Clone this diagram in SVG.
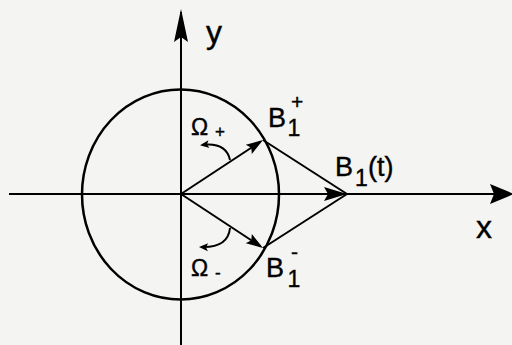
<svg xmlns="http://www.w3.org/2000/svg" width="512" height="345" viewBox="0 0 512 345">
  <style>
    .ln { stroke: #000; stroke-width: 2; fill: none; }
    .circ { stroke: #000; stroke-width: 2.5; fill: none; }
    .t { font-family: "Liberation Sans", Arial, sans-serif; fill: #000; stroke: #000; stroke-width: 0.4; }
    .head { fill: #000; stroke: none; }
  </style>
  <defs>
    <marker id="ay" markerUnits="userSpaceOnUse" viewBox="-40 -20 45 40" markerWidth="45" markerHeight="40" refX="0" refY="0" orient="auto">
      <path class="head" d="M3,0 L-30,-7 L-25,0 L-30,7 Z"/>
    </marker>
    <marker id="ax" markerUnits="userSpaceOnUse" viewBox="-40 -20 45 40" markerWidth="45" markerHeight="40" refX="0" refY="0" orient="auto">
      <path class="head" d="M3,0 L-21,-10 L-17,0 L-21,10 Z"/>
    </marker>
    <marker id="ab" markerUnits="userSpaceOnUse" viewBox="-40 -20 45 40" markerWidth="45" markerHeight="40" refX="0" refY="0" orient="auto">
      <path class="head" d="M3,0 L-20,-7 L-16,0 L-20,7 Z"/>
    </marker>
    <marker id="as" markerUnits="userSpaceOnUse" viewBox="-40 -20 45 40" markerWidth="45" markerHeight="40" refX="0" refY="0" orient="auto">
      <path class="head" d="M3,0 L-14,-5.5 L-11,0 L-14,5.5 Z"/>
    </marker>
    <marker id="am" markerUnits="userSpaceOnUse" viewBox="-20 -10 25 20" markerWidth="25" markerHeight="20" refX="0" refY="0" orient="auto">
      <path class="head" d="M2,0 L-7,-4 L-5,0 L-7,4 Z"/>
    </marker>
  </defs>
  <rect width="512" height="345" fill="#f4f4f2"/>

  <g id="axes">
    <line class="ln" x1="181" y1="345" x2="181" y2="12" marker-end="url(#ay)"/>
    <line class="ln" x1="9" y1="194" x2="511" y2="194" marker-end="url(#ax)"/>
    <text class="t" x="206" y="43" font-size="32">y</text>
    <text class="t" x="476" y="238" font-size="32">x</text>
  </g>

  <g id="circle">
    <ellipse class="circ" cx="180.5" cy="194.5" rx="98.5" ry="105"/>
  </g>

  <g id="connectors">
    <line class="ln" x1="181" y1="194" x2="344" y2="194" marker-end="url(#ab)"/>
    <line class="ln" x1="181" y1="194" x2="260.5" y2="141.7" marker-end="url(#as)"/>
    <line class="ln" x1="181" y1="194" x2="260.5" y2="246.3" marker-end="url(#as)"/>
    <line class="ln" x1="263" y1="140" x2="347" y2="194"/>
    <line class="ln" x1="263" y1="248" x2="347" y2="194"/>
    <path class="ln" d="M230,160 Q226,142 202,145" marker-end="url(#am)"/>
    <path class="ln" d="M230,228 Q228,248 201,247" marker-end="url(#am)"/>
  </g>

  <g id="B1t">
    <text class="t" x="335" y="176" font-size="27">B</text>
    <text class="t" x="355" y="186" font-size="23">1</text>
    <text class="t" x="368" y="176" font-size="27">(t)</text>
  </g>

  <g id="B1plus">
    <text class="t" x="268" y="127" font-size="27">B</text>
    <text class="t" x="287.5" y="136" font-size="23">1</text>
    <text class="t" x="291" y="109" font-size="21">+</text>
  </g>

  <g id="B1minus">
    <text class="t" x="266" y="277" font-size="27">B</text>
    <text class="t" x="287.5" y="287" font-size="23">1</text>
    <text class="t" x="291" y="258.5" font-size="21">-</text>
  </g>

  <g id="OmegaPlus">
    <text class="t" x="191" y="135" font-size="23">Ω</text>
    <text class="t" x="215" y="137" font-size="17">+</text>
  </g>

  <g id="OmegaMinus">
    <text class="t" x="191" y="276" font-size="23">Ω</text>
    <text class="t" x="215" y="278" font-size="17">-</text>
  </g>
</svg>
